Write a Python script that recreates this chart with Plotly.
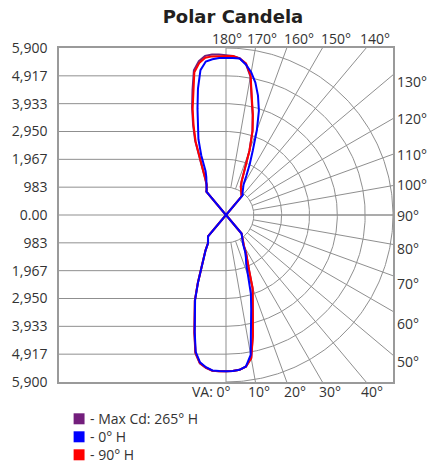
import numpy as np
import plotly.graph_objects as go

# ---------------- data ----------------
vertical_angles = [0, 2.5, 5, 7.5, 10, 12.5, 15, 17.5, 20, 22.5, 25, 27.5, 30, 32.5, 35, 37.5, 40,
                   45, 90, 135,
                   140, 142.5, 145, 147.5, 150, 152.5, 155, 157.5, 160, 162.5, 165, 167.5, 170,
                   172.5, 175, 177.5, 180]

cd_0H = [5516, 5519, 5491, 5396, 5020, 4118, 3439, 2925, 2253, 1866, 1665, 1464, 1220, 1105, 1014, 908, 855,
         0, 0, 0,
         933, 954, 1042, 1140, 1239, 1549, 1982, 2478, 3186, 3865, 4365, 4794, 5125, 5364, 5548, 5555, 5551]
cd_180H = [5516, 5519, 5512, 5424, 5287, 4949, 4270, 3654, 3193, 2584, 2094, 1714, 1443, 1179, 1105, 1042, 986,
           0, 0, 0,
           1074, 1123, 1165, 1243, 1380, 1507, 1707, 2288, 2848, 3337, 3890, 4576, 5196, 5470, 5523, 5555, 5551]
cd_90H = [5516, 5519, 5491, 5403, 5139, 4389, 3671, 3161, 2756, 2154, 1813, 1549, 1274, 1105, 1014, 908, 855,
          0, 0, 0,
          862, 898, 943, 1007, 1070, 1133, 1302, 1714, 2436, 3126, 3671, 4224, 5005, 5407, 5558, 5625, 5621]
cd_270H = [5516, 5525, 5520, 5440, 5310, 4980, 4300, 3680, 3210, 2600, 2100, 1720, 1450, 1185, 1108, 1044, 988,
           0, 0, 0,
           1074, 1123, 1165, 1267, 1447, 1640, 2133, 2802, 3344, 3921, 4499, 5167, 5449, 5604, 5625, 5628, 5621]
cd_85H = [5516, 5519, 5491, 5400, 5130, 4370, 3650, 3140, 2730, 2140, 1800, 1540, 1270, 1105, 1014, 908, 855,
          0, 0, 0,
          862, 898, 943, 1007, 1070, 1133, 1302, 1714, 2420, 3100, 3640, 4190, 4970, 5380, 5550, 5620, 5650]
cd_265H = [5516, 5528, 5525, 5450, 5325, 5000, 4320, 3700, 3225, 2610, 2110, 1725, 1452, 1188, 1110, 1046, 990,
           0, 0, 0,
           1080, 1130, 1175, 1280, 1465, 1665, 2170, 2850, 3400, 3985, 4570, 5240, 5520, 5670, 5690, 5680, 5650]

series_names = ["Max Cd: 265° H", "0° H", "90° H"]
series_colors = ["#731E7C", "#0000FF", "#FF0000"]
series_right = [cd_85H, cd_0H, cd_90H]
series_left = [cd_265H, cd_180H, cd_270H]
draw_order = [0, 2, 1]

cd_axis_max = 5900
cd_tick_labels = ["5,900", "4,917", "3,933", "2,950", "1,967", "983", "0.00",
                  "983", "1,967", "2,950", "3,933", "4,917", "5,900"]
grid_angles = [10, 20, 30, 40, 50, 60, 70, 80, 90, 100, 110, 120, 130, 140, 150, 160, 170]
top_labels = ["180°", "170°", "160°", "150°", "140°"]
right_labels = ["130°", "120°", "110°", "100°", "90°", "80°", "70°", "60°", "50°"]
bottom_labels = ["VA: 0°", "10°", "20°", "30°", "40°"]

# ---------------- layout constants ----------------
W, H = 427, 463
ML, MR, MT, MB = 57, 34, 48, 81
PW, PH = W - ML - MR, H - MT - MB
FONT = "Open Sans"
TXT = "#333333"
GRID = "#8f8f8f"

top_label_x = [40, 1275, 2585, 3902, 5268]
bottom_label_x = [246, 1152, 2434, 3663, 5173]
right_label_y = [4710, 3416, 2155, 1095, 0, -1176, -2413, -3826, -5183]


def paper_x(px):
    return (px - ML) / PW


def paper_y(py):
    return (H - MB - py) / PH


fig = go.Figure()

# ---------------- grid ----------------
n_rings = 6
ring = cd_axis_max / n_rings
gx, gy = [], []
t = np.linspace(0, np.pi, 241)
for k in range(1, n_rings + 1):
    r = k * ring
    gx += list(r * np.sin(t)) + [None]
    gy += list(-r * np.cos(t)) + [None]
for k in range(1, n_rings):
    for s in (1, -1):
        gx += [-cd_axis_max, 0, None]
        gy += [s * k * ring, s * k * ring, None]
gx += [-cd_axis_max, cd_axis_max, None, 0, 0, None]
gy += [0, 0, None, -cd_axis_max, cd_axis_max, None]
for a in grid_angles:
    th = np.radians(a)
    gx += [ring * np.sin(th), 3 * cd_axis_max * np.sin(th), None]
    gy += [-ring * np.cos(th), -3 * cd_axis_max * np.cos(th), None]

fig.add_trace(go.Scatter(x=gx, y=gy, mode="lines", line=dict(color=GRID, width=1),
                         hoverinfo="skip", showlegend=False))

# ---------------- curves ----------------
ang = np.radians(np.array(vertical_angles, dtype=float))
for i in draw_order:
    rr = np.array(series_right[i], dtype=float)
    rl = np.array(series_left[i], dtype=float)
    xs = list(rr * np.sin(ang)) + list((-rl * np.sin(ang))[::-1])
    ys = list(-rr * np.cos(ang)) + list((-rl * np.cos(ang))[::-1])
    fig.add_trace(go.Scatter(x=xs, y=ys, mode="lines", name=series_names[i],
                             line=dict(color=series_colors[i], width=2), showlegend=False))

# ---------------- annotations ----------------
ann = []
for lab, x in zip(top_labels, top_label_x):
    ann.append(dict(x=x, y=cd_axis_max, xref="x", yref="y", text=lab, showarrow=False,
                    xanchor="center", yanchor="middle", yshift=9.5,
                    font=dict(family=FONT, size=14, color=TXT)))
for lab, y in zip(right_labels, right_label_y):
    ann.append(dict(x=cd_axis_max, y=y, xref="x", yref="y", text=lab, showarrow=False,
                    xanchor="left", yanchor="middle", xshift=2,
                    font=dict(family=FONT, size=14, color=TXT)))
for j, (lab, x) in enumerate(zip(bottom_labels, bottom_label_x)):
    ann.append(dict(x=x, y=-cd_axis_max, xref="x", yref="y", text=lab, showarrow=False,
                    xanchor="right" if j == 0 else "center", yanchor="middle", yshift=-9.5,
                    font=dict(family=FONT, size=14, color=TXT)))

# legend (manual)
shapes = []
legend_rows_y = [418.8, 436.8, 454.8]
for name, col, py in zip(series_names, series_colors, legend_rows_y):
    shapes.append(dict(type="rect", xref="paper", yref="paper",
                       x0=paper_x(71.7), x1=paper_x(82.7),
                       y0=paper_y(py - 5.5), y1=paper_y(py + 5.5),
                       fillcolor=col, line=dict(width=0)))
    ann.append(dict(x=paper_x(86.5), y=paper_y(py), xref="paper", yref="paper",
                    text="- " + name, showarrow=False, xanchor="left", yanchor="middle",
                    font=dict(family=FONT, size=14, color=TXT)))

fig.update_layout(
    width=W, height=H, autosize=False,
    margin=dict(l=ML, r=MR, t=MT, b=MB),
    paper_bgcolor="white", plot_bgcolor="white",
    showlegend=False,
    title=dict(text="<b>Polar Candela</b>", x=paper_x(232), xref="paper", xanchor="center",
               y=1 - 17 / H, yref="container", yanchor="middle",
               font=dict(family="DejaVu Sans", size=18, color="#231F20")),
    xaxis=dict(range=[-cd_axis_max, cd_axis_max], showgrid=False, zeroline=False,
               showticklabels=False, ticks="", showline=True, mirror=True,
               linecolor="#9a9a9a", linewidth=1.5, fixedrange=True),
    yaxis=dict(range=[-cd_axis_max, cd_axis_max], showgrid=False, zeroline=False,
               tickmode="array",
               tickvals=[cd_axis_max - i * ring for i in range(13)],
               ticktext=cd_tick_labels, ticks="", ticklabelstandoff=7,
               tickfont=dict(family=FONT, size=14, color=TXT),
               showline=True, mirror=True, linecolor="#9a9a9a", linewidth=1.5,
               fixedrange=True),
    annotations=ann, shapes=shapes,
)

fig.write_html("out.html", config={"displayModeBar": False},
               post_script="document.body.style.margin='0';document.body.style.padding='0';")
